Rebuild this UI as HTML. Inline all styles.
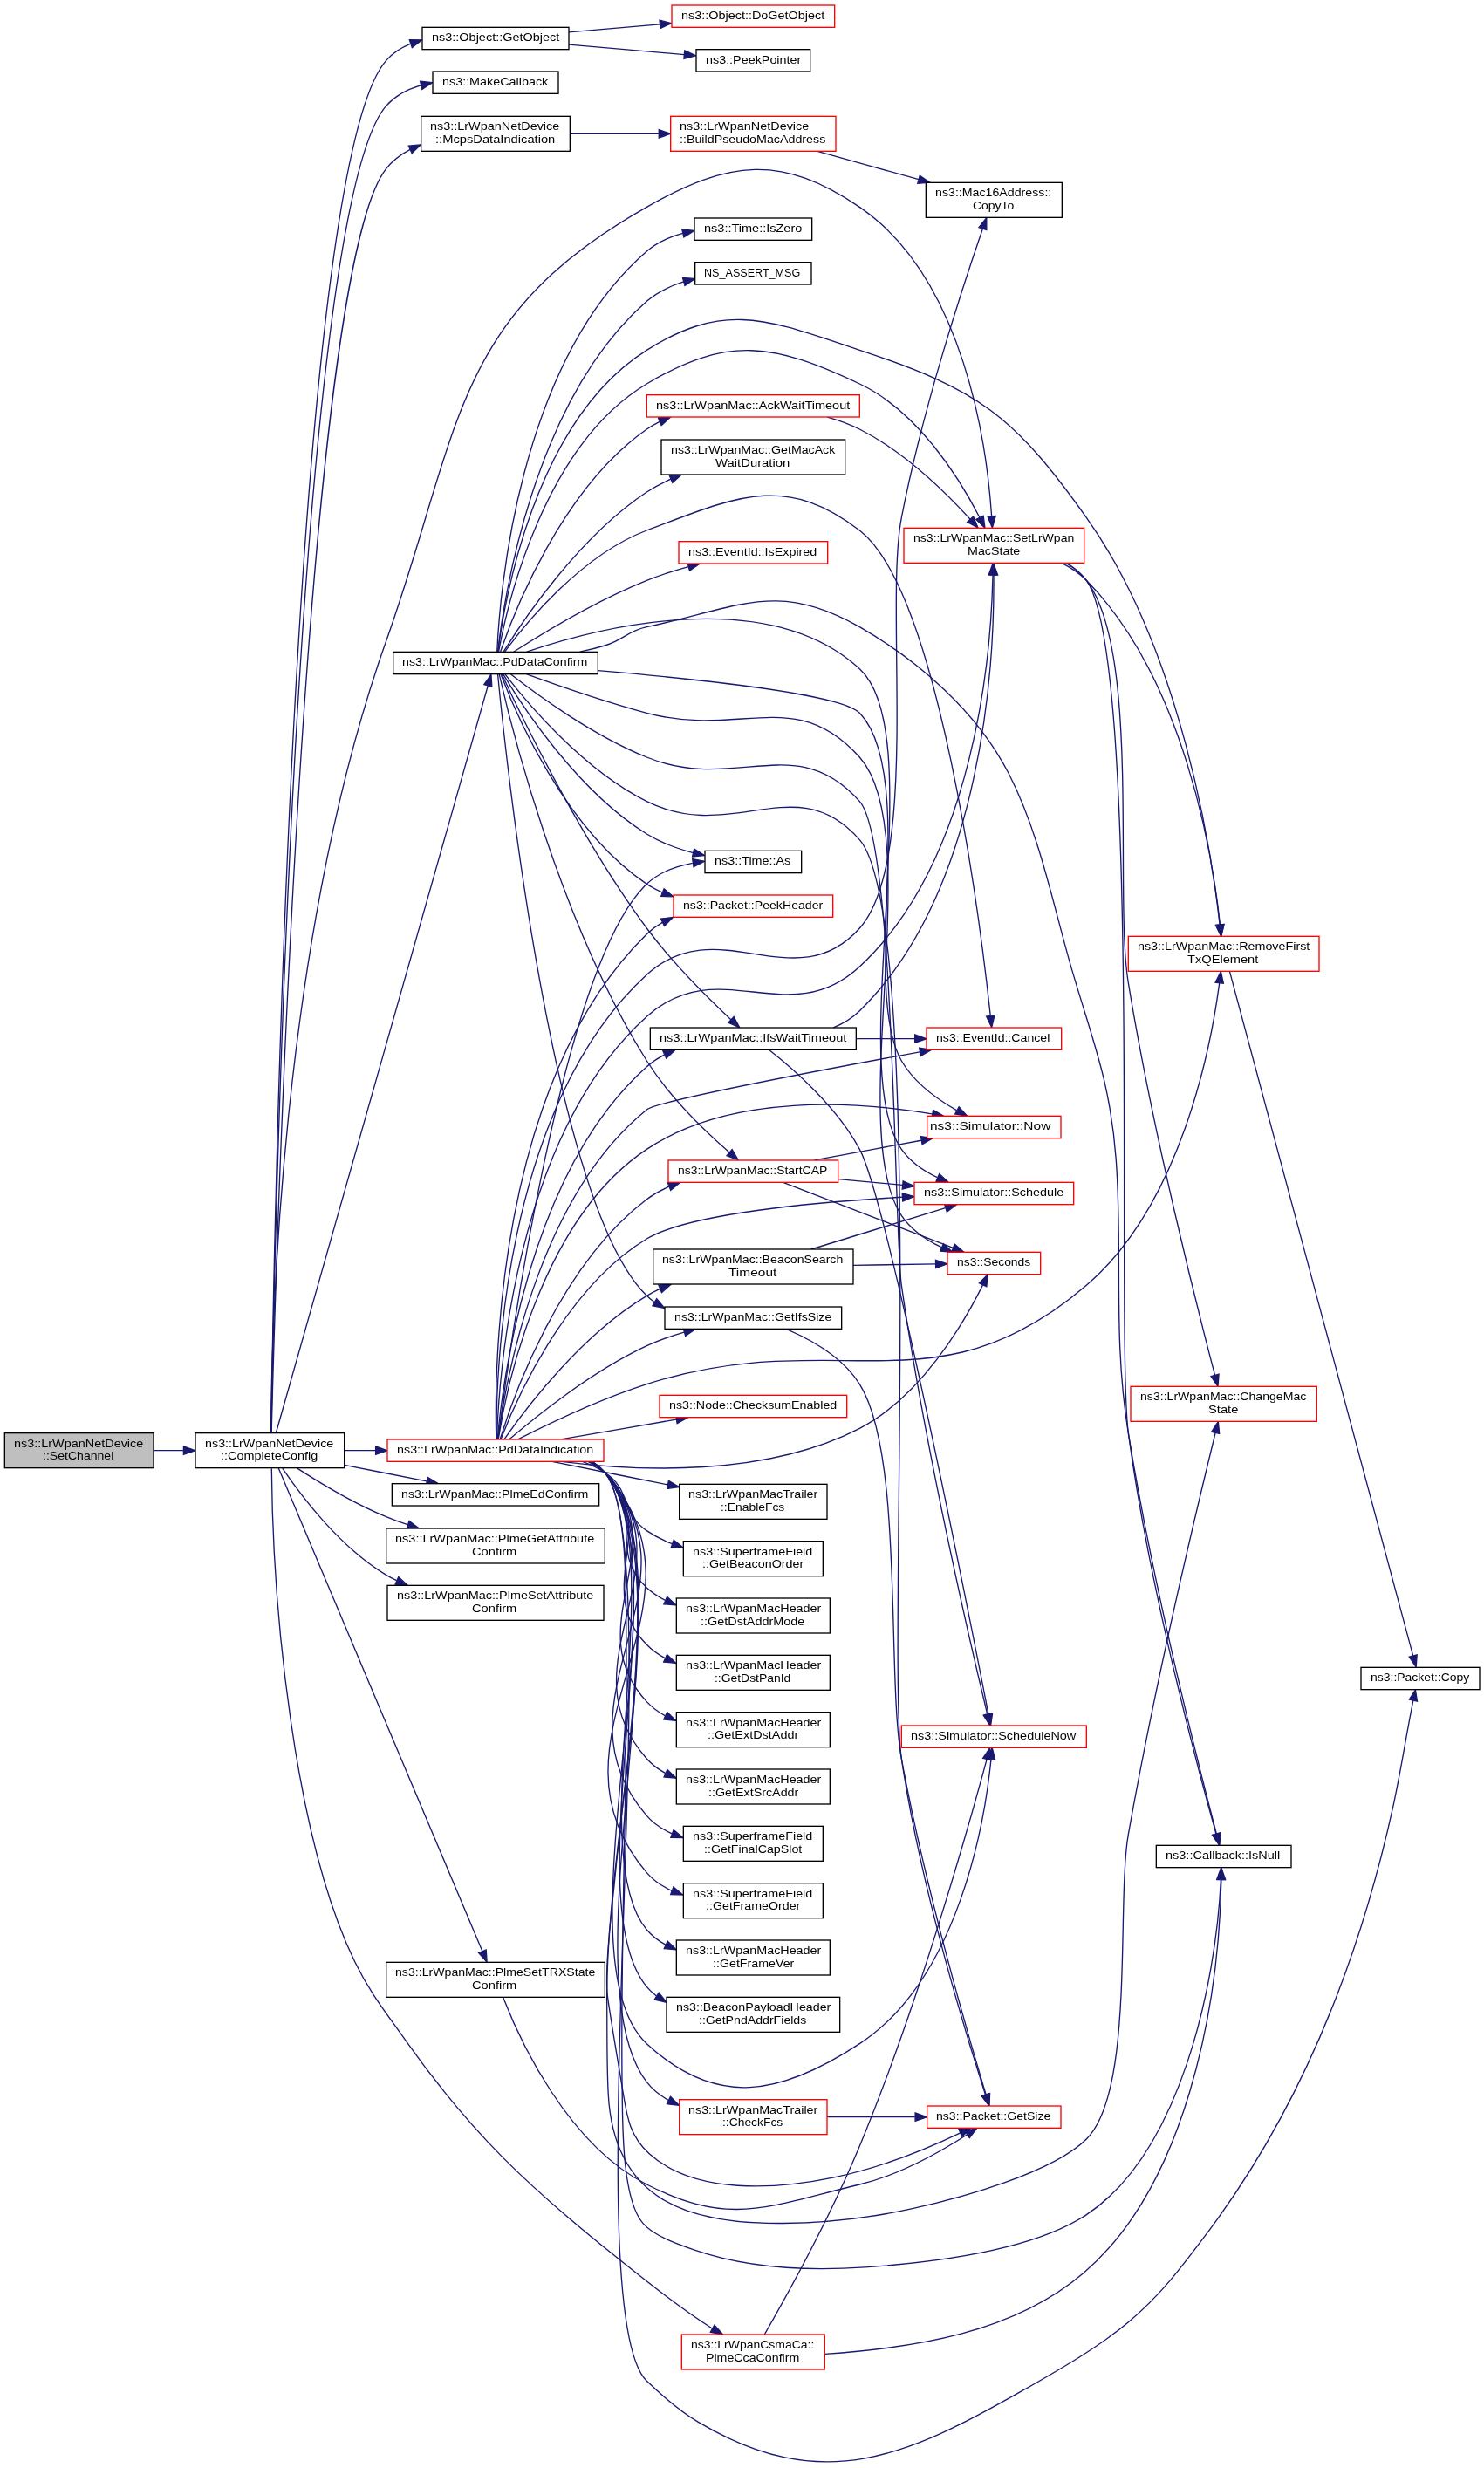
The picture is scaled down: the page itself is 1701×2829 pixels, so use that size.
<!DOCTYPE html>
<html><head><meta charset="utf-8"><title>ns3::LrWpanNetDevice::SetChannel</title>
<style>html,body{margin:0;padding:0;background:#fff}svg{display:block;will-change:transform}text{font-family:"Liberation Sans",sans-serif;font-size:13.33px;fill:#000}.e{fill:none;stroke:#191970;stroke-width:1.33}.a{fill:#191970;stroke:#191970;stroke-width:1.33}.n{stroke-width:1.33}</style></head><body>
<svg width="1701" height="2829" viewBox="0 0 1701 2829">
<rect width="1701" height="2829" fill="#fff"/>
<path class="e" d="M176.13,1662.67C187.24,1662.67 198.72,1662.67 210.04,1662.67"/>
<polygon class="a" points="210.41,1658 223.75,1662.67 210.41,1667.33"/>
<path class="e" d="M310.89,1642.53C313.12,1466.52 332.92,192.97 442.67,69.33 450.32,60.71 460.04,54.56 470.67,50.23"/>
<polygon class="a" points="469.36,45.75 483.49,45.93 472.32,54.6"/>
<path class="e" d="M310.96,1642.65C313.72,1470.4 337.03,241.24 442.67,121.33 453.03,109.57 467.2,102.29 482.28,97.91"/>
<polygon class="a" points="481.64,93.27 495.69,94.76 483.77,102.35"/>
<path class="e" d="M311.15,1642.61C315.33,1475.15 347.73,312.13 442.67,193.33 450.05,184.09 459.6,176.95 470.11,171.44"/>
<polygon class="a" points="468.27,167.16 482.33,165.91 472.12,175.67"/>
<path class="e" d="M310.61,1642.37C310.92,1541.17 319.39,1082.03 442.67,734.67 528.91,491.68 516.95,364.32 741.33,237.33 835.71,183.92 895.71,176.28 985.33,237.33 1105.89,319.45 1131.25,512.71 1136.59,591.24"/>
<polygon class="a" points="1141.27,591.36 1137.39,604.93 1131.95,591.91"/>
<path class="e" d="M316.37,1642.55C349.93,1524.2 521.47,919.36 559.28,786.03"/>
<polygon class="a" points="554.83,784.63 562.96,773.07 563.81,787.17"/>
<path class="e" d="M394.84,1662.67C406.28,1662.67 418.24,1662.67 430.31,1662.67"/>
<polygon class="a" points="430.63,1658 443.96,1662.67 430.63,1667.33"/>
<path class="e" d="M394.84,1679.32C425.17,1685.33 459.24,1692.07 488.99,1697.96"/>
<polygon class="a" points="490.15,1693.43 502.32,1700.6 488.33,1702.59"/>
<path class="e" d="M340.45,1682.83C366.48,1699.69 405.77,1723.39 442.67,1738.67 450.51,1741.91 458.76,1744.93 467.12,1747.71"/>
<polygon class="a" points="469.01,1743.41 480.32,1751.89 466.2,1752.32"/>
<path class="e" d="M323.81,1683.13C344.97,1714.37 389.65,1773.67 442.67,1805.33 446.48,1807.61 450.47,1809.73 454.55,1811.69"/>
<polygon class="a" points="456.75,1807.57 467.11,1817.17 453.03,1816.12"/>
<path class="e" d="M319.19,1682.85C356.57,1771.47 506.4,2126.52 552.85,2236.61"/>
<polygon class="a" points="557.23,2234.97 558.12,2249.07 548.64,2238.6"/>
<path class="e" d="M311.3,1683.2C312.68,1843.68 336.71,2104.86 406.6,2248.5C424.25,2284.78 442.09,2306.61 464.9,2338.9C539.61,2444.66 605.87,2507.04 705.9,2586.8C741.82,2615.44 777.8,2644.51 816.6,2669.2"/>
<polygon class="a" points="814.31,2673.27 828.7,2676 818.89,2665.13"/>
<path class="e" d="M652.03,36.84C684.41,34.04 721.95,30.79 756.27,27.81"/>
<polygon class="a" points="756.05,23.15 769.73,26.65 756.85,32.45"/>
<path class="e" d="M652.03,51.16C693.48,54.75 743.41,59.07 784.17,62.6"/>
<polygon class="a" points="784.73,57.96 797.63,63.76 783.93,67.25"/>
<path class="e" d="M653.59,153.33C685.2,153.33 721.56,153.33 754.97,153.33"/>
<polygon class="a" points="755.25,148.67 768.59,153.33 755.25,158"/>
<path class="e" d="M936.84,173.4C972.49,183.31 1015.75,195.33 1053,205.69"/>
<polygon class="a" points="1054.31,201.21 1065.89,209.28 1051.8,210.21"/>
<path class="e" d="M1216.91,645.41C1227.39,650.61 1237.28,657.15 1245.33,665.33 1357.64,779.4 1389.88,980.64 1398.45,1059.91"/>
<polygon class="a" points="1403.11,1059.51 1399.79,1073.24 1393.81,1060.44"/>
<path class="e" d="M1221.89,645.47C1230.89,650.65 1239.05,657.16 1245.33,665.33 1308.09,747.09 1276.72,1024.95 1293.33,1126.67 1321.21,1297.4 1372.09,1498.32 1392.52,1576.19"/>
<polygon class="a" points="1397.07,1575.19 1395.96,1589.27 1388.05,1577.56"/>
<path class="e" d="M1222.81,645.45C1231.55,650.63 1239.4,657.15 1245.33,665.33 1309.16,753.35 1278.8,1534.92 1293.33,1642.67 1317.35,1820.73 1373.71,2030.11 1393.95,2102.15"/>
<polygon class="a" points="1398.45,2100.92 1397.59,2115.01 1389.47,2103.47"/>
<path class="e" d="M1409.4,1113.45C1439.43,1225.47 1585.83,1771.64 1619.68,1897.91"/>
<polygon class="a" points="1624.2,1896.8 1623.15,1910.88 1615.19,1899.21"/>
<path class="e" d="M571.52,747.01C580.81,696.35 622.23,511.2 741.33,440 834.41,384.36 887.25,393.72 985.33,440 1052.59,471.73 1100.24,549.24 1122.96,593.31"/>
<polygon class="a" points="1127.17,591.29 1128.95,605.31 1118.81,595.47"/>
<path class="e" d="M570.76,747.03C577.52,692.75 611.59,483 741.33,401.33 833.11,343.56 882.33,367.43 985.33,401.33 1121.77,446.25 1162.04,476.31 1245.33,593.33 1353.49,745.31 1388.48,974.76 1398.12,1059.96"/>
<polygon class="a" points="1402.76,1059.49 1399.55,1073.25 1393.48,1060.49"/>
<path class="e" d="M664.68,747.2C674.44,745.12 684.13,742.73 693.33,740C715.71,733.35 718.49,723.51 741.33,718.67C847.41,696.15 891.32,664.61 985.33,718.67C1053.25,757.71 1119.8,815.76 1156,886.3C1191.27,955.01 1206.11,1033.19 1227.3,1106.9C1251.42,1190.81 1272.4,1237.93 1279.2,1328.4C1287.32,1436.47 1275.06,1529.38 1293.3,1642.7C1321.89,1820.07 1375.41,2029.85 1394.41,2102.07"/>
<polygon class="a" points="1398.93,2100.89 1397.84,2114.99 1389.92,2103.29"/>
<path class="e" d="M569.75,746.99C572.47,684.92 592.72,416.81 741.33,288 752.97,277.92 767.59,271.49 782.6,267.48"/>
<polygon class="a" points="781.8,262.88 795.83,264.53 783.83,271.99"/>
<path class="e" d="M570.6,747.19C576.93,690.51 610.19,459.99 741.33,345.33 753.32,334.85 768.36,327.76 783.71,322.96"/>
<polygon class="a" points="782.53,318.44 796.61,319.45 784.97,327.45"/>
<path class="e" d="M573.65,746.81C588.79,702.8 643.83,559.99 741.33,492 745.99,488.76 750.96,485.89 756.15,483.37"/>
<polygon class="a" points="754.48,479.01 768.59,478.11 758.13,487.61"/>
<path class="e" d="M577.24,746.89C598.97,711.97 663.21,615.77 741.33,564 749.87,558.35 759.28,553.41 768.96,549.15"/>
<polygon class="a" points="767.21,544.83 781.32,544.09 770.75,553.47"/>
<path class="e" d="M578.33,747.29C601.23,716.21 665.31,636.77 741.33,608 842.76,569.6 899.48,541.75 985.33,608 1076.67,678.48 1123.97,1060.32 1135.29,1164.43"/>
<polygon class="a" points="1139.93,1163.96 1136.71,1177.71 1130.65,1164.95"/>
<path class="e" d="M588.68,747.28C619.73,727.36 683.12,688.67 741.33,665.33 756.43,659.28 773.03,654.04 788.96,649.63"/>
<polygon class="a" points="788.07,645.04 802.15,646.13 790.45,654.07"/>
<path class="e" d="M603.84,747.23C682.83,720.48 878.13,668.75 985.33,766.67 1059.48,834.39 983.04,1129.08 1033.33,1216 1047.76,1240.92 1074,1259.95 1096.6,1272.73"/>
<polygon class="a" points="1099.12,1268.79 1108.68,1279.19 1094.72,1277.01"/>
<path class="e" d="M685.47,768.67C801.24,778.47 964.73,795.87 985.33,817.33 1062.61,897.87 969.59,1225.71 1033.33,1317.33 1043.35,1331.72 1058.6,1342.17 1074.39,1349.71"/>
<polygon class="a" points="1076.65,1345.6 1087.08,1355.15 1072.99,1354.19"/>
<path class="e" d="M603.89,772.84C638.36,785.35 693.01,804.31 741.33,817.33 848.28,846.15 911.59,785.36 985.33,868 1063.39,955.47 968.08,1295.95 1033.33,1393.33 1044.25,1409.64 1061.65,1421.4 1079.16,1429.72"/>
<polygon class="a" points="1081.44,1425.63 1091.83,1435.2 1077.73,1434.2"/>
<path class="e" d="M585.35,772.84C614.55,795.61 679.19,842.99 741.33,868 844.08,909.36 911.79,835.85 985.33,918.67 1026.41,964.92 1024.52,1412.11 1033.33,1473.33 1060.69,1663.4 1113.4,1888.96 1131.61,1964.53"/>
<polygon class="a" points="1136.27,1963.91 1134.88,1977.96 1127.2,1966.11"/>
<path class="e" d="M578.91,772.85C602.61,803.68 667.49,881.92 741.33,918.67 839.99,967.76 912.76,879.75 985.33,962.67 1062.49,1050.83 1016.11,1900.11 1033.33,2016 1055.36,2164.2 1108.57,2336.48 1129.41,2400.75"/>
<polygon class="a" points="1133.96,2399.61 1133.67,2413.75 1125.09,2402.52"/>
<path class="e" d="M576.76,772.85C597.77,808 661.29,906.39 741.33,956 757.35,965.92 776.39,972.8 794.56,977.55"/>
<polygon class="a" points="795.69,973.01 807.59,980.64 793.53,982.09"/>
<path class="e" d="M574.07,773.11C590.13,815.52 646.84,949.97 741.33,1013.33 746.97,1017.11 753.05,1020.33 759.4,1023.11"/>
<polygon class="a" points="761.07,1018.75 771.85,1027.85 757.73,1027.47"/>
<path class="e" d="M575.19,772.84C595.15,816.03 663.68,959.27 741.33,1064 770.93,1103.92 811.99,1144.56 837.76,1168.68"/>
<polygon class="a" points="841.17,1165.48 847.8,1177.96 834.84,1172.33"/>
<path class="e" d="M572.17,772.81C584.95,828.79 640.96,1056.23 741.33,1216 767.6,1257.81 809.19,1297.61 836.03,1321.08"/>
<polygon class="a" points="839.12,1317.6 846.2,1329.81 833.04,1324.68"/>
<path class="e" d="M570.52,772.8C578.99,861.15 632.89,1379.65 741.33,1485.33 743.95,1487.88 746.75,1490.2 749.71,1492.32"/>
<polygon class="a" points="752.68,1488.65 761.77,1499.48 747.92,1496.68"/>
<path class="e" d="M948.35,478.08C961.11,481.65 973.84,486.2 985.33,492 1036.19,517.68 1083.79,564.21 1111.91,594.95"/>
<polygon class="a" points="1115.57,592.05 1121.01,605.09 1108.63,598.29"/>
<path class="e" d="M955.28,1177.89C966.4,1173.25 976.83,1167.01 985.33,1158.67 1128.61,1018.16 1139.79,753.08 1138.99,659.28"/>
<polygon class="a" points="1134.32,659.15 1138.77,645.73 1143.65,659"/>
<path class="e" d="M981.37,1190.67C1003.76,1190.67 1026.87,1190.67 1048.23,1190.67"/>
<polygon class="a" points="1048.65,1186 1061.99,1190.67 1048.65,1195.33"/>
<path class="e" d="M881.67,1203.4C908.15,1224.19 958.93,1268.08 985.33,1317.33 1017.07,1376.53 1110.29,1848.37 1132.97,1964.77"/>
<polygon class="a" points="1137.59,1963.99 1135.55,1977.97 1128.41,1965.77"/>
<path class="e" d="M933.29,1329.95C970.49,1323.05 1016.73,1314.48 1055.84,1307.23"/>
<polygon class="a" points="1055.39,1302.56 1069.35,1304.72 1057.09,1311.75"/>
<path class="e" d="M961.04,1351.6C984.79,1353.8 1010.32,1356.16 1034.4,1358.4"/>
<polygon class="a" points="1035.15,1353.77 1047.99,1359.65 1034.28,1363.07"/>
<path class="e" d="M897.64,1355.37C946.28,1374.12 1037.41,1409.24 1092.43,1430.44"/>
<polygon class="a" points="1094.15,1426.09 1104.91,1435.25 1090.79,1434.81"/>
<path class="e" d="M901.15,1523.49C929.08,1535.35 966,1555.83 985.33,1586.67 1036.33,1668 1016.11,1921.56 1033.33,2016 1060.23,2163.39 1110.56,2336.15 1130.03,2400.65"/>
<polygon class="a" points="1134.59,2399.57 1133.99,2413.69 1125.65,2402.29"/>
<path class="e" d="M569.05,1649.56C568.37,1581.92 574.59,1269.65 741.33,1117.33 823.29,1042.47 911.43,1146.81 985.33,1064 1055.33,985.56 1013.4,696.56 1033.33,593.33 1057.33,469.08 1104.4,325.93 1126.29,262.52"/>
<polygon class="a" points="1122.01,260.6 1130.8,249.55 1130.83,263.67"/>
<path class="e" d="M569.53,1649.89C571.29,1586.6 587.73,1303.99 741.33,1165.33 824.03,1090.69 903.64,1183.73 985.33,1108 1118.15,984.85 1136.07,747.2 1138,659.19"/>
<polygon class="a" points="1133.33,658.73 1138.2,645.47 1142.67,658.87"/>
<path class="e" d="M593.76,1649.89C626.53,1633.23 686.93,1604.12 741.33,1586.67 959.96,1516.53 1071.05,1622.8 1245.33,1473.33 1353.44,1380.63 1387.81,1201.33 1397.71,1126.95"/>
<polygon class="a" points="1393.09,1126.19 1399.37,1113.52 1402.36,1127.33"/>
<path class="e" d="M679.15,1675.68C684.4,1679.08 689.19,1683.16 693.33,1688C768.63,1776.01 657.57,2649.33 741.33,2729.33C758.57,2745.79 780.42,2764.39 800,2776.1C942.33,2861.21 1040.48,2815.47 1174.9,2738.7C1214.2,2716.26 1258.74,2690.84 1293.2,2662C1330.27,2630.98 1353.43,2599.9 1382.2,2561.7C1492.01,2415.91 1557.98,2247.68 1596.9,2070.3C1605.76,2029.94 1611.69,1989.53 1619.9,1949.1"/>
<polygon class="a" points="1624.47,1950.05 1622.4,1937.1 1615.33,1948.15"/>
<path class="e" d="M678.52,1675.4C684,1678.85 689.01,1683.01 693.33,1688C734.19,1735.08 732.84,1812.19 731.5,1870.48C728.31,2009.76 694.48,2161.23 695.69,2295.36C696.01,2330.24 695.39,2365.16 697.2,2400C703.62,2523.94 790.67,2549.59 897.7,2548.5C947.37,2547.99 997.31,2542.34 1045.8,2531.7C1099.06,2520.01 1205.77,2491.18 1245.3,2452C1300.99,2396.84 1279.61,2179.81 1293.33,2102.67C1324.33,1928.36 1373.63,1722.08 1393.07,1642.73"/>
<polygon class="a" points="1388.63,1641.25 1396.33,1629.43 1397.68,1643.48"/>
<path class="e" d="M678.55,1675.37C684.01,1678.84 689.03,1683.01 693.33,1688C720.16,1719.03 717.46,1838.49 717.84,1878.12C719.54,2052.12 710.56,2225.95 713.2,2400C713.73,2434.82 712.76,2521.07 737.3,2548.9C750.15,2563.47 778.18,2572.96 794.6,2578.7C857.62,2600.72 925.5,2603.51 991.6,2598.9C1065.8,2593.72 1182.28,2580.05 1244.7,2539.1C1352.89,2468.12 1393.71,2274.97 1399.4,2154.5"/>
<polygon class="a" points="1404.07,2154.57 1399.6,2141.2 1394.73,2154.43"/>
<path class="e" d="M570.81,1649.67C577.83,1594.21 613.04,1375.57 741.33,1272 753.53,1262.15 941.56,1226.49 1054.29,1205.81"/>
<polygon class="a" points="1053.69,1201.17 1067.65,1203.36 1055.37,1210.35"/>
<path class="e" d="M571.19,1649.65C579.43,1597.08 618.03,1399.23 741.33,1317.33 839.63,1252.05 983.56,1262.68 1068.33,1276.93"/>
<polygon class="a" points="1069.6,1272.41 1081.92,1279.33 1067.97,1281.6"/>
<path class="e" d="M574.05,1649.81C590.08,1608.28 646.68,1477.03 741.33,1420 789.13,1391.2 933.21,1378.07 1033.87,1372.28"/>
<polygon class="a" points="1034.2,1367.59 1047.77,1371.51 1034.72,1376.91"/>
<path class="e" d="M643.55,1675.36C730.61,1686.52 876.84,1693.33 985.33,1637.33 1056.09,1600.8 1105.45,1515.35 1126.53,1472.87"/>
<polygon class="a" points="1122.4,1470.71 1132.39,1460.71 1130.81,1474.75"/>
<path class="e" d="M678.45,1675.47C683.95,1678.91 688.99,1683.05 693.33,1688 789.65,1797.55 634.48,2243.36 741.33,2342.67 820.77,2416.49 894.67,2402.16 985.33,2342.67 1100.27,2267.23 1129.11,2084.64 1135.97,2016.69"/>
<polygon class="a" points="1131.33,2016.21 1137.17,2003.35 1140.63,2017.05"/>
<path class="e" d="M678.51,1675.4C684,1678.87 689.01,1683.03 693.33,1688C732.94,1733.55 731.79,1808.19 730.61,1864.65C728.6,1960.9 714.2,2056.52 704.92,2152.21C701.67,2185.7 692.3,2259.72 696.67,2290.46C701.87,2327.08 708.57,2363.47 714.4,2400C718.76,2427.29 722.28,2448.93 744.2,2468.7C796.91,2516.24 891.03,2509.41 954.9,2496.2C1005.73,2485.69 1054.11,2467.23 1100.8,2444.9"/>
<polygon class="a" points="1102.6,2449.21 1112.3,2440.1 1099,2440.59"/>
<path class="e" d="M570.93,1649.61C581.41,1566.05 643.01,1106.67 741.33,1013.33 755.45,999.93 774.76,992.85 793.8,989.29"/>
<polygon class="a" points="793.67,984.6 807.53,987.29 795.01,993.84"/>
<path class="e" d="M568.8,1649.56C566.72,1579.03 566.39,1241.55 741.33,1070.67 746.67,1065.45 752.73,1061.08 759.25,1057.39"/>
<polygon class="a" points="757.39,1053.11 771.43,1051.47 761.48,1061.49"/>
<path class="e" d="M570.27,1649.89C575.25,1591.21 603.96,1345.28 741.33,1222.67 747.35,1217.31 754.15,1212.83 761.39,1209.08"/>
<polygon class="a" points="759.87,1204.65 773.93,1203.45 763.68,1213.17"/>
<path class="e" d="M573.07,1649.95C587,1604.77 640.41,1450.72 741.33,1374.67 749.07,1368.84 757.77,1364.07 766.89,1360.16"/>
<polygon class="a" points="765.39,1355.75 779.51,1355.36 768.71,1364.47"/>
<path class="e" d="M583.88,1649.81C612.2,1625.41 677.59,1572.23 741.33,1542.67 754.73,1536.45 769.55,1531.28 784.08,1527.04"/>
<polygon class="a" points="783.19,1522.44 797.28,1523.39 785.67,1531.44"/>
<path class="e" d="M578.09,1649.69C600.91,1616.91 665.69,1530.16 741.33,1485.33 746.17,1482.47 751.27,1479.84 756.51,1477.43"/>
<polygon class="a" points="754.88,1473.05 768.99,1472.2 758.49,1481.65"/>
<path class="e" d="M642.81,1649.95C682.99,1642.99 733.01,1634.33 775.12,1627.04"/>
<polygon class="a" points="774.56,1622.4 788.49,1624.72 776.16,1631.6"/>
<path class="e" d="M632.84,1675.4C671.53,1683.15 721.76,1693.21 765.32,1701.95"/>
<polygon class="a" points="766.45,1697.41 778.6,1704.61 764.61,1706.57"/>
<path class="e" d="M667.53,1675.44C676.64,1678.75 685.4,1682.87 693.33,1688 723.99,1707.83 711.27,1733.96 741.33,1754.67 750.21,1760.79 760.2,1765.73 770.53,1769.73"/>
<polygon class="a" points="772.2,1765.37 783.25,1774.16 769.13,1774.19"/>
<path class="e" d="M674,1675.48C680.96,1678.85 687.51,1682.97 693.33,1688 740.6,1728.77 695.27,1777.88 741.33,1820 747.63,1825.76 754.85,1830.51 762.55,1834.4"/>
<polygon class="a" points="764.67,1830.24 774.99,1839.88 760.91,1838.79"/>
<path class="e" d="M675.8,1675.39C682.17,1678.81 688.11,1682.97 693.33,1688 758.33,1750.63 678.17,1820.85 741.33,1885.33 747.4,1891.53 754.53,1896.57 762.23,1900.67"/>
<polygon class="a" points="764.52,1896.59 774.72,1906.36 760.65,1905.08"/>
<path class="e" d="M676.71,1675.37C682.79,1678.81 688.41,1682.97 693.33,1688 776.37,1772.79 660.77,1863.52 741.33,1950.67 747.32,1957.15 754.45,1962.36 762.21,1966.57"/>
<polygon class="a" points="764.69,1962.57 774.85,1972.39 760.79,1971.05"/>
<path class="e" d="M677.48,1675.51C683.29,1678.92 688.65,1683.05 693.33,1688 794.55,1795.07 643.25,1906.05 741.33,2016 747.44,2022.84 754.83,2028.31 762.91,2032.64"/>
<polygon class="a" points="764.96,2028.45 775.16,2038.23 761.09,2036.95"/>
<path class="e" d="M677.61,1675.37C683.4,1678.83 688.72,1682.99 693.33,1688 812.77,1817.41 625.67,1948.52 741.33,2081.33 749.19,2090.36 759.28,2096.97 770.25,2101.81"/>
<polygon class="a" points="772.09,2097.52 782.97,2106.55 768.84,2106.27"/>
<path class="e" d="M678.27,1675.63C683.81,1679.03 688.91,1683.12 693.33,1688 831.05,1839.8 608.05,1990.95 741.33,2146.67 749.12,2155.76 759.16,2162.41 770.12,2167.27"/>
<polygon class="a" points="771.95,2162.97 782.81,2172.01 768.68,2171.72"/>
<path class="e" d="M678.35,1675.56C683.87,1678.97 688.93,1683.09 693.33,1688 771.33,1775.11 665.87,2122.68 741.33,2212 747.35,2219.12 754.75,2224.75 762.89,2229.19"/>
<polygon class="a" points="765.12,2225.08 775.29,2234.88 761.23,2233.56"/>
<path class="e" d="M678.4,1675.51C683.91,1678.95 688.96,1683.07 693.33,1688 780.49,1786.32 657.04,2176.53 741.33,2277.33 744.65,2281.31 748.41,2284.81 752.49,2287.92"/>
<polygon class="a" points="755.2,2284.11 763.96,2295.2 750.2,2291.99"/>
<path class="e" d="M678.48,1675.44C683.96,1678.89 688.99,1683.04 693.33,1688 795.83,1805.11 645.96,2263.69 741.33,2386.67 747.99,2395.25 756.55,2402.01 766.03,2407.33"/>
<polygon class="a" points="768.48,2403.33 778.45,2413.33 764.43,2411.73"/>
<path class="e" d="M929.79,1431.99C976.72,1417.56 1039.35,1398.32 1083.61,1384.71"/>
<polygon class="a" points="1082.61,1380.13 1096.72,1380.68 1085.35,1389.07"/>
<path class="e" d="M978.21,1450.33C1010.35,1449.87 1044.25,1449.37 1072.52,1448.96"/>
<polygon class="a" points="1072.51,1444.29 1085.91,1448.76 1072.64,1453.63"/>
<path class="e" d="M948.16,2426.67C980.03,2426.67 1016.47,2426.67 1048.85,2426.67"/>
<polygon class="a" points="1049.12,2422 1062.45,2426.67 1049.12,2431.33"/>
<path class="e" d="M576.64,2289.39C595.31,2337.24 649.87,2457.64 741.33,2504 838.07,2553.03 879.85,2529.19 985.33,2504 1031.31,2493.01 1079.09,2465.83 1108.69,2446.8"/>
<polygon class="a" points="1106.13,2442.91 1119.84,2439.47 1111.27,2450.69"/>
<path class="e" d="M945.6,2698.4C1047.5,2691.31 1161.11,2674.56 1242,2605.5C1358.88,2505.71 1396.97,2301.51 1399.9,2154.5"/>
<polygon class="a" points="1404.57,2154.5 1399.9,2141.2 1395.23,2154.5"/>
<path class="e" d="M876.45,2675.68C899.45,2635.47 951.09,2542.44 985.33,2460 1053.59,2295.61 1111.59,2088.99 1131.04,2016.91"/>
<polygon class="a" points="1126.64,2015.29 1134.6,2003.63 1135.65,2017.72"/>
<rect class="n" x="5.33" y="1642.67" width="170.67" height="40" fill="#bfbfbf" stroke="#000"/>
<text x="16" y="1658.67" textLength="148.3" lengthAdjust="spacingAndGlyphs">ns3::LrWpanNetDevice</text>
<text x="49" y="1673.33" textLength="81.3" lengthAdjust="spacingAndGlyphs">::SetChannel</text>
<rect class="n" x="224" y="1642.67" width="170.67" height="40" fill="#fff" stroke="#000"/>
<text x="235" y="1658.67" textLength="147.3" lengthAdjust="spacingAndGlyphs">ns3::LrWpanNetDevice</text>
<text x="253" y="1673.33" textLength="111.3" lengthAdjust="spacingAndGlyphs">::CompleteConfig</text>
<rect class="n" x="484" y="31.33" width="168" height="25.33" fill="#fff" stroke="#000"/>
<text x="495" y="47.33" textLength="146.3" lengthAdjust="spacingAndGlyphs">ns3::Object::GetObject</text>
<rect class="n" x="496" y="82" width="144" height="25.33" fill="#fff" stroke="#000"/>
<text x="507" y="98" textLength="121.3" lengthAdjust="spacingAndGlyphs">ns3::MakeCallback</text>
<rect class="n" x="482.67" y="133.33" width="170.67" height="40" fill="#fff" stroke="#000"/>
<text x="493" y="149.33" textLength="148.3" lengthAdjust="spacingAndGlyphs">ns3::LrWpanNetDevice</text>
<text x="499" y="164" textLength="137.3" lengthAdjust="spacingAndGlyphs">::McpsDataIndication</text>
<rect class="n" x="1036" y="605.33" width="206.67" height="40" fill="#fff" stroke="#f00"/>
<text x="1047" y="621.33" textLength="184.3" lengthAdjust="spacingAndGlyphs">ns3::LrWpanMac::SetLrWpan</text>
<text x="1109" y="636" textLength="60.3" lengthAdjust="spacingAndGlyphs">MacState</text>
<rect class="n" x="450.67" y="747.33" width="234.67" height="25.33" fill="#fff" stroke="#000"/>
<text x="461" y="763.33" textLength="212.3" lengthAdjust="spacingAndGlyphs">ns3::LrWpanMac::PdDataConfirm</text>
<rect class="n" x="444" y="1650" width="248" height="25.33" fill="#fff" stroke="#f00"/>
<text x="455" y="1666" textLength="225.3" lengthAdjust="spacingAndGlyphs">ns3::LrWpanMac::PdDataIndication</text>
<rect class="n" x="449.33" y="1700.67" width="237.33" height="25.33" fill="#fff" stroke="#000"/>
<text x="460" y="1716.67" textLength="214.3" lengthAdjust="spacingAndGlyphs">ns3::LrWpanMac::PlmeEdConfirm</text>
<rect class="n" x="442.67" y="1752" width="250.67" height="40" fill="#fff" stroke="#000"/>
<text x="453" y="1768" textLength="228.3" lengthAdjust="spacingAndGlyphs">ns3::LrWpanMac::PlmeGetAttribute</text>
<text x="541" y="1782.67" textLength="51.3" lengthAdjust="spacingAndGlyphs">Confirm</text>
<rect class="n" x="444" y="1817.33" width="248" height="40" fill="#fff" stroke="#000"/>
<text x="455" y="1833.33" textLength="225.3" lengthAdjust="spacingAndGlyphs">ns3::LrWpanMac::PlmeSetAttribute</text>
<text x="541" y="1848" textLength="51.3" lengthAdjust="spacingAndGlyphs">Confirm</text>
<rect class="n" x="442.67" y="2249.33" width="250.67" height="40" fill="#fff" stroke="#000"/>
<text x="453" y="2265.33" textLength="229.3" lengthAdjust="spacingAndGlyphs">ns3::LrWpanMac::PlmeSetTRXState</text>
<text x="541" y="2280" textLength="51.3" lengthAdjust="spacingAndGlyphs">Confirm</text>
<rect class="n" x="781.33" y="2676" width="164" height="40" fill="#fff" stroke="#f00"/>
<text x="792" y="2692" textLength="141.3" lengthAdjust="spacingAndGlyphs">ns3::LrWpanCsmaCa::</text>
<text x="809" y="2706.67" textLength="107.3" lengthAdjust="spacingAndGlyphs">PlmeCcaConfirm</text>
<rect class="n" x="770" y="6" width="186.67" height="25.33" fill="#fff" stroke="#f00"/>
<text x="781" y="22" textLength="164.3" lengthAdjust="spacingAndGlyphs">ns3::Object::DoGetObject</text>
<rect class="n" x="798" y="56.67" width="130.67" height="25.33" fill="#fff" stroke="#000"/>
<text x="809" y="72.67" textLength="109.3" lengthAdjust="spacingAndGlyphs">ns3::PeekPointer</text>
<rect class="n" x="768.67" y="133.33" width="189.33" height="40" fill="#fff" stroke="#f00"/>
<text x="779" y="149.33" textLength="148.3" lengthAdjust="spacingAndGlyphs">ns3::LrWpanNetDevice</text>
<text x="779" y="164" textLength="167.3" lengthAdjust="spacingAndGlyphs">::BuildPseudoMacAddress</text>
<rect class="n" x="1061.33" y="209.33" width="156" height="40" fill="#fff" stroke="#000"/>
<text x="1072" y="225.33" textLength="133.3" lengthAdjust="spacingAndGlyphs">ns3::Mac16Address::</text>
<text x="1115" y="240" textLength="47.3" lengthAdjust="spacingAndGlyphs">CopyTo</text>
<rect class="n" x="1293.33" y="1073.33" width="218.67" height="40" fill="#fff" stroke="#f00"/>
<text x="1304" y="1089.33" textLength="197.3" lengthAdjust="spacingAndGlyphs">ns3::LrWpanMac::RemoveFirst</text>
<text x="1361" y="1104" textLength="81.3" lengthAdjust="spacingAndGlyphs">TxQElement</text>
<rect class="n" x="1296" y="1589.33" width="213.33" height="40" fill="#fff" stroke="#f00"/>
<text x="1307" y="1605.33" textLength="190.3" lengthAdjust="spacingAndGlyphs">ns3::LrWpanMac::ChangeMac</text>
<text x="1385" y="1620" textLength="34.3" lengthAdjust="spacingAndGlyphs">State</text>
<rect class="n" x="1325.33" y="2115.33" width="154.67" height="25.33" fill="#fff" stroke="#000"/>
<text x="1336" y="2131.33" textLength="131.3" lengthAdjust="spacingAndGlyphs">ns3::Callback::IsNull</text>
<rect class="n" x="1560" y="1911.33" width="136" height="25.33" fill="#fff" stroke="#000"/>
<text x="1571" y="1927.33" textLength="113.3" lengthAdjust="spacingAndGlyphs">ns3::Packet::Copy</text>
<rect class="n" x="796" y="250" width="134.67" height="25.33" fill="#fff" stroke="#000"/>
<text x="807" y="266" textLength="112.3" lengthAdjust="spacingAndGlyphs">ns3::Time::IsZero</text>
<rect class="n" x="796.67" y="300.67" width="133.33" height="25.33" fill="#fff" stroke="#000"/>
<text x="807" y="316.67" textLength="110.3" lengthAdjust="spacingAndGlyphs">NS_ASSERT_MSG</text>
<rect class="n" x="741.33" y="452.67" width="244" height="25.33" fill="#fff" stroke="#f00"/>
<text x="752" y="468.67" textLength="222.3" lengthAdjust="spacingAndGlyphs">ns3::LrWpanMac::AckWaitTimeout</text>
<rect class="n" x="758" y="504" width="210.67" height="40" fill="#fff" stroke="#000"/>
<text x="769" y="520" textLength="188.3" lengthAdjust="spacingAndGlyphs">ns3::LrWpanMac::GetMacAck</text>
<text x="820" y="534.67" textLength="85.3" lengthAdjust="spacingAndGlyphs">WaitDuration</text>
<rect class="n" x="1062" y="1178" width="154.67" height="25.33" fill="#fff" stroke="#f00"/>
<text x="1073" y="1194" textLength="130.3" lengthAdjust="spacingAndGlyphs">ns3::EventId::Cancel</text>
<rect class="n" x="778" y="620.67" width="170.67" height="25.33" fill="#fff" stroke="#f00"/>
<text x="789" y="636.67" textLength="147.3" lengthAdjust="spacingAndGlyphs">ns3::EventId::IsExpired</text>
<rect class="n" x="1062.67" y="1279.33" width="153.33" height="25.33" fill="#fff" stroke="#f00"/>
<text x="1066" y="1295.33" textLength="138.3" lengthAdjust="spacingAndGlyphs">ns3::Simulator::Now</text>
<rect class="n" x="1048" y="1355.33" width="182.67" height="25.33" fill="#fff" stroke="#f00"/>
<text x="1059" y="1371.33" textLength="160.3" lengthAdjust="spacingAndGlyphs">ns3::Simulator::Schedule</text>
<rect class="n" x="1086" y="1435.33" width="106.67" height="25.33" fill="#fff" stroke="#f00"/>
<text x="1097" y="1451.33" textLength="84.3" lengthAdjust="spacingAndGlyphs">ns3::Seconds</text>
<rect class="n" x="1033.33" y="1978" width="212" height="25.33" fill="#fff" stroke="#f00"/>
<text x="1044" y="1994" textLength="189.3" lengthAdjust="spacingAndGlyphs">ns3::Simulator::ScheduleNow</text>
<rect class="n" x="1062.67" y="2414" width="153.33" height="25.33" fill="#fff" stroke="#f00"/>
<text x="1073" y="2430" textLength="131.3" lengthAdjust="spacingAndGlyphs">ns3::Packet::GetSize</text>
<rect class="n" x="808" y="975.33" width="110.67" height="25.33" fill="#fff" stroke="#000"/>
<text x="819" y="991.33" textLength="87.3" lengthAdjust="spacingAndGlyphs">ns3::Time::As</text>
<rect class="n" x="772" y="1026" width="182.67" height="25.33" fill="#fff" stroke="#f00"/>
<text x="783" y="1042" textLength="160.3" lengthAdjust="spacingAndGlyphs">ns3::Packet::PeekHeader</text>
<rect class="n" x="745.33" y="1178" width="236" height="25.33" fill="#fff" stroke="#000"/>
<text x="756" y="1194" textLength="214.3" lengthAdjust="spacingAndGlyphs">ns3::LrWpanMac::IfsWaitTimeout</text>
<rect class="n" x="766" y="1330" width="194.67" height="25.33" fill="#fff" stroke="#f00"/>
<text x="777" y="1346" textLength="171.3" lengthAdjust="spacingAndGlyphs">ns3::LrWpanMac::StartCAP</text>
<rect class="n" x="762" y="1498" width="202.67" height="25.33" fill="#fff" stroke="#000"/>
<text x="773" y="1514" textLength="180.3" lengthAdjust="spacingAndGlyphs">ns3::LrWpanMac::GetIfsSize</text>
<rect class="n" x="748.67" y="1432" width="229.33" height="40" fill="#fff" stroke="#000"/>
<text x="759" y="1448" textLength="207.3" lengthAdjust="spacingAndGlyphs">ns3::LrWpanMac::BeaconSearch</text>
<text x="835" y="1462.67" textLength="55.3" lengthAdjust="spacingAndGlyphs">Timeout</text>
<rect class="n" x="756" y="1599.33" width="214.67" height="25.33" fill="#fff" stroke="#f00"/>
<text x="767" y="1615.33" textLength="192.3" lengthAdjust="spacingAndGlyphs">ns3::Node::ChecksumEnabled</text>
<rect class="n" x="778.67" y="1701.33" width="169.33" height="40" fill="#fff" stroke="#000"/>
<text x="789" y="1717.33" textLength="148.3" lengthAdjust="spacingAndGlyphs">ns3::LrWpanMacTrailer</text>
<text x="826" y="1732" textLength="73.3" lengthAdjust="spacingAndGlyphs">::EnableFcs</text>
<rect class="n" x="783.33" y="1766.67" width="160" height="40" fill="#fff" stroke="#000"/>
<text x="794" y="1782.67" textLength="137.3" lengthAdjust="spacingAndGlyphs">ns3::SuperframeField</text>
<text x="805" y="1797.33" textLength="116.3" lengthAdjust="spacingAndGlyphs">::GetBeaconOrder</text>
<rect class="n" x="775.33" y="1832" width="176" height="40" fill="#fff" stroke="#000"/>
<text x="786" y="1848" textLength="155.3" lengthAdjust="spacingAndGlyphs">ns3::LrWpanMacHeader</text>
<text x="803" y="1862.67" textLength="119.3" lengthAdjust="spacingAndGlyphs">::GetDstAddrMode</text>
<rect class="n" x="775.33" y="1897.33" width="176" height="40" fill="#fff" stroke="#000"/>
<text x="786" y="1913.33" textLength="155.3" lengthAdjust="spacingAndGlyphs">ns3::LrWpanMacHeader</text>
<text x="819" y="1928" textLength="87.3" lengthAdjust="spacingAndGlyphs">::GetDstPanId</text>
<rect class="n" x="775.33" y="1962.67" width="176" height="40" fill="#fff" stroke="#000"/>
<text x="786" y="1978.67" textLength="155.3" lengthAdjust="spacingAndGlyphs">ns3::LrWpanMacHeader</text>
<text x="811" y="1993.33" textLength="104.3" lengthAdjust="spacingAndGlyphs">::GetExtDstAddr</text>
<rect class="n" x="775.33" y="2028" width="176" height="40" fill="#fff" stroke="#000"/>
<text x="786" y="2044" textLength="155.3" lengthAdjust="spacingAndGlyphs">ns3::LrWpanMacHeader</text>
<text x="812" y="2058.67" textLength="103.3" lengthAdjust="spacingAndGlyphs">::GetExtSrcAddr</text>
<rect class="n" x="783.33" y="2093.33" width="160" height="40" fill="#fff" stroke="#000"/>
<text x="794" y="2109.33" textLength="137.3" lengthAdjust="spacingAndGlyphs">ns3::SuperframeField</text>
<text x="807" y="2124" textLength="112.3" lengthAdjust="spacingAndGlyphs">::GetFinalCapSlot</text>
<rect class="n" x="783.33" y="2158.67" width="160" height="40" fill="#fff" stroke="#000"/>
<text x="794" y="2174.67" textLength="137.3" lengthAdjust="spacingAndGlyphs">ns3::SuperframeField</text>
<text x="809" y="2189.33" textLength="108.3" lengthAdjust="spacingAndGlyphs">::GetFrameOrder</text>
<rect class="n" x="775.33" y="2224" width="176" height="40" fill="#fff" stroke="#000"/>
<text x="786" y="2240" textLength="155.3" lengthAdjust="spacingAndGlyphs">ns3::LrWpanMacHeader</text>
<text x="817" y="2254.67" textLength="93.3" lengthAdjust="spacingAndGlyphs">::GetFrameVer</text>
<rect class="n" x="764" y="2289.33" width="198.67" height="40" fill="#fff" stroke="#000"/>
<text x="775" y="2305.33" textLength="177.3" lengthAdjust="spacingAndGlyphs">ns3::BeaconPayloadHeader</text>
<text x="801" y="2320" textLength="123.3" lengthAdjust="spacingAndGlyphs">::GetPndAddrFields</text>
<rect class="n" x="778.67" y="2406.67" width="169.33" height="40" fill="#fff" stroke="#f00"/>
<text x="789" y="2422.67" textLength="148.3" lengthAdjust="spacingAndGlyphs">ns3::LrWpanMacTrailer</text>
<text x="828" y="2437.33" textLength="69.3" lengthAdjust="spacingAndGlyphs">::CheckFcs</text>
</svg></body></html>
